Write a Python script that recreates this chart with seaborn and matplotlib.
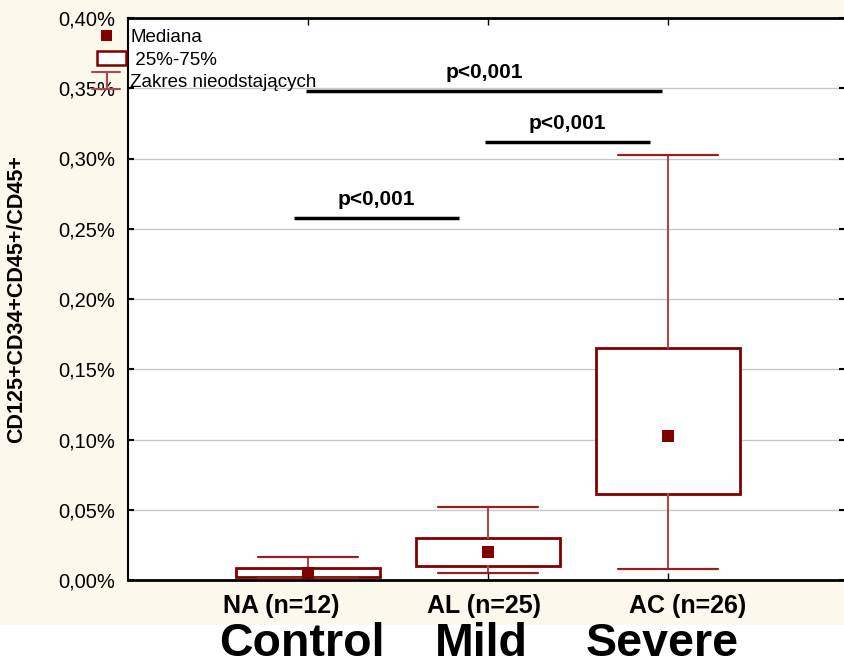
import matplotlib
matplotlib.use("Agg")
import matplotlib.pyplot as plt
import matplotlib.patches as mpatches
import matplotlib.transforms as mtransforms
import seaborn as sns
import pandas as pd

# ---------------- data (values in %) ----------------
groups = ["NA (n=12)", "AL (n=25)", "AC (n=26)"]
severity = ["Control", "Mild", "Severe"]
medians = [0.0050, 0.0199, 0.1025]
q1 = [0.0020, 0.0100, 0.0612]
q3 = [0.0085, 0.0299, 0.1651]
whisk_lo = [0.0014, 0.0050, 0.0078]
whisk_hi = [0.0164, 0.0520, 0.3025]
y_ticks = [0.00, 0.05, 0.10, 0.15, 0.20, 0.25, 0.30, 0.35, 0.40]
y_label = "CD125+CD34+CD45+/CD45+"
sig_text = ["p<0,001", "p<0,001", "p<0,001"]
sig_x0 = [-0.078, 0.983, -0.011]
sig_x1 = [0.839, 1.900, 1.967]
sig_y = [0.2577, 0.3117, 0.3480]
legend_labels = ["Mediana", " 25%-75%", "Zakres nieodstających"]

# ---------------- style ----------------
sns.set_style("white")
plt.rcParams["font.family"] = ["Liberation Sans", "DejaVu Sans"]
for k in ["text.color", "axes.labelcolor", "xtick.color", "ytick.color"]:
    plt.rcParams[k] = "black"

CREAM = "#fdf8ec"
DARK = "#800000"
WHISK = "#a84a4a"

W, H = 845, 667
fig = plt.figure(figsize=(W / 100, H / 100), dpi=100, facecolor="white")
fig.patches.append(mpatches.Rectangle((0, 42 / H), 1, 1 - 42 / H, transform=fig.transFigure,
                                      facecolor=CREAM, edgecolor="none", zorder=-10))

ax = fig.add_axes([128 / W, (H - 580) / H, (W - 128) / W, (580 - 18) / H])
ax.set_facecolor("white")

ax.set_ylim(0, 0.40)
ax.set_xlim(-1, -1 + (W - 128) / 180)
ax.set_yticks(y_ticks)
ax.yaxis.grid(True, color="#c8c8c8", linewidth=1.0, zorder=0)
ax.set_axisbelow(True)

# boxes
stats = []
for i in range(len(groups)):
    stats.append(dict(med=medians[i], q1=q1[i], q3=q3[i], whislo=whisk_lo[i],
                      whishi=whisk_hi[i], fliers=[]))
ax.bxp(stats, positions=list(range(len(groups))), widths=0.8, capwidths=0.56,
       patch_artist=True, showfliers=False,
       boxprops=dict(facecolor="white", edgecolor=DARK, linewidth=2.0),
       whiskerprops=dict(color=WHISK, linewidth=1.5),
       capprops=dict(color="#952020", linewidth=1.6),
       medianprops=dict(linewidth=0), manage_ticks=False, zorder=3)

df = pd.DataFrame({"x": list(range(len(groups))), "median": medians})
sns.scatterplot(data=df, x="x", y="median", marker="s", s=80, color=DARK,
                edgecolor=DARK, linewidth=0, ax=ax, zorder=5, legend=False)

# significance bars
for x0, x1, yy, t in zip(sig_x0, sig_x1, sig_y, sig_text):
    ax.plot([x0, x1], [yy, yy], color="black", linewidth=2.5, solid_capstyle="butt", zorder=6)
    ax.text((x0 + x1) / 2, yy + 0.0062, t, ha="center", va="bottom", fontsize=15,
            fontweight="bold", color="black", zorder=6)

# axes / ticks
ax.set_xticks(list(range(len(groups))))
ax.set_xticklabels([])
label_shift = [-0.15, -0.02, 0.11]
btr_ax = mtransforms.blended_transform_factory(ax.transData, ax.transAxes)
for i, g in enumerate(groups):
    ax.text(i + label_shift[i], -26 / 562, g, transform=btr_ax, ha="center", va="center",
            fontsize=18, fontweight="bold", clip_on=False)
ax.set_yticklabels([f"{v:.2f}%".replace(".", ",") for v in y_ticks], fontsize=14.5)
ax.tick_params(axis="x", direction="in", length=5, width=1, top=True, bottom=True)
ax.tick_params(axis="y", direction="in", length=4, width=1.5, pad=9, left=True, right=True)
ax.set_xlabel("")
ax.set_ylabel(y_label, fontsize=15.5, fontweight="bold")
ax.yaxis.set_label_coords((27 - 128) / 717, 0.50)

for side in ["left", "top", "bottom", "right"]:
    ax.spines[side].set_color("black")
ax.spines["left"].set_linewidth(1.5)
ax.spines["top"].set_linewidth(2.0)
ax.spines["bottom"].set_linewidth(2.0)
ax.spines["right"].set_visible(False)

# legend (axes-fraction coordinates, outside the left spine)
T = ax.transAxes
ax.add_patch(mpatches.Rectangle((-0.0375, 0.959), 0.0155, 0.0195, transform=T, facecolor=DARK,
                                edgecolor="none", clip_on=False, zorder=7))
ax.add_patch(mpatches.Rectangle((-0.0432, 0.9164), 0.0404, 0.0249, transform=T, facecolor="white",
                                edgecolor=DARK, linewidth=1.8, clip_on=False, zorder=7))
ax.plot([-0.0502, -0.0112], [0.904, 0.904], transform=T, color=WHISK, lw=1.5, clip_on=False, zorder=7)
ax.plot([-0.0502, -0.0112], [0.8737, 0.8737], transform=T, color=WHISK, lw=1.5, clip_on=False, zorder=7)
ax.plot([-0.0293, -0.0293], [0.8737, 0.904], transform=T, color=WHISK, lw=1.5, clip_on=False, zorder=7)
for txt, yy in zip(legend_labels, [0.966, 0.925, 0.886]):
    ax.text(0.0028, yy, txt, transform=T, fontsize=13.5, va="center", ha="left", zorder=8)

# severity labels
btr = mtransforms.blended_transform_factory(ax.transData, fig.transFigure)
for i, s in enumerate(severity):
    fig.text(i - 0.035, (H - 644) / H, s, transform=btr, ha="center", va="center",
             fontsize=33.5, fontweight="bold", color="black")

fig.savefig("out.png", dpi=100, facecolor="white")
